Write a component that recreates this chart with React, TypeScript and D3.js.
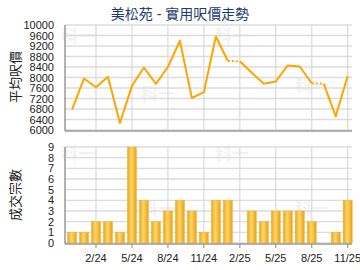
import React from "react";
import * as d3 from "d3";

const months = ["12/23","1/24","2/24","3/24","4/24","5/24","6/24","7/24","8/24","9/24","10/24","11/24","12/24","1/25","2/25","3/25","4/25","5/25","6/25","7/25","8/25","9/25","10/25","11/25"];
const prices = [6780,7960,7630,8030,6270,7680,8380,7760,8400,9400,7220,7440,9560,8630,8620,8180,7760,7850,8460,8420,7780,7770,6520,8060];
const counts = [1,1,2,2,1,9,4,2,3,4,3,1,4,4,0,3,2,3,3,3,2,0,1,4];
const tickLabels = ["2/24","5/24","8/24","11/24","2/25","5/25","8/25","11/25"];
const priceTicks = [6000,6400,6800,7200,7600,8000,8400,8800,9200,9600,10000];
const countTicks = [0,1,2,3,4,5,6,7,8,9];
const title = "美松苑 - 實用呎價走勢";

const FONT = "Arial, 'Liberation Sans', 'Noto Sans CJK TC', sans-serif";

export default function App() {
  const W = 360, H = 270;
  const left = 65, right = 352;
  const x = d3.scaleLinear().domain([0, 23]).range([72, 347.7]);
  const yP = d3.scaleLinear().domain([6000, 10000]).range([130, 25]);
  const yC = d3.scaleLinear().domain([0, 9]).range([243, 147]);
  const gridX = tickLabels.map((t) => months.indexOf(t));
  const barW = 9;

  const segs: { a: number; b: number; dotted: boolean }[] = [];
  for (let i = 0; i < prices.length - 1; i++) {
    segs.push({ a: i, b: i + 1, dotted: counts[i + 1] === 0 });
  }
  const solidRuns: number[][] = [];
  let cur: number[] = [0];
  segs.forEach((s) => {
    if (s.dotted) {
      if (cur.length > 1) solidRuns.push(cur);
      cur = [s.b];
    } else cur.push(s.b);
  });
  if (cur.length > 1) solidRuns.push(cur);
  const line = d3.line<number>().x((i) => x(i)).y((i) => yP(prices[i]));

  const wm = [
    [78, 42], [158, 100], [232, 42], [312, 92],
    [78, 160], [158, 215], [232, 160], [312, 215],
  ];

  return (
    <svg width={W} height={H} style={{ position: "absolute", left: 0, top: 0, background: "#fff" }} fontFamily={FONT}>
      <defs>
        <linearGradient id="barg" x1="0" x2="1" y1="0" y2="0">
          <stop offset="0" stopColor="#eda51c" />
          <stop offset="0.45" stopColor="#ffd66b" />
          <stop offset="0.6" stopColor="#fcc84a" />
          <stop offset="1" stopColor="#e9a018" />
        </linearGradient>
      </defs>
      {wm.map(([wx, wy], i) => (
        <text key={"wm" + i} x={wx} y={wy} fontSize={17} fontWeight="bold" fill="#f2f2f2" textAnchor="middle">科一</text>
      ))}
      <text x={180} y={19} textAnchor="middle" fontSize={14} fill="#1c3d6e">{title}</text>

      {priceTicks.map((t) => (
        <line key={"hp" + t} x1={left} x2={right} y1={yP(t)} y2={yP(t)} stroke="#dcdcdc" strokeWidth={1.3} />
      ))}
      {gridX.map((i) => (
        <line key={"vp" + i} x1={x(i)} x2={x(i)} y1={25} y2={130} stroke="#dcdcdc" strokeWidth={1.3} />
      ))}
      <line x1={left} x2={left} y1={25} y2={131} stroke="#999" strokeWidth={1.5} />
      <line x1={left} x2={right} y1={131} y2={131} stroke="#999" strokeWidth={1.5} />
      {priceTicks.map((t) => (
        <text key={"tp" + t} x={54} y={yP(t) + 4} textAnchor="end" fontSize={11} fill="#222">{t}</text>
      ))}
      <text transform="translate(20,77) rotate(-90)" textAnchor="middle" fontSize={13} fill="#222">平均呎價</text>

      {solidRuns.map((run, k) => (
        <path key={"run" + k} d={line(run) || ""} fill="none" stroke="#ffa500" strokeWidth={2} strokeLinejoin="round" />
      ))}
      {segs.filter((s) => s.dotted).map((s, k) => (
        <path key={"dot" + k} d={line([s.a, s.b]) || ""} fill="none" stroke="#ffa500" strokeWidth={2} strokeDasharray="2,2" />
      ))}

      {countTicks.map((t) => (
        <line key={"hc" + t} x1={left} x2={right} y1={yC(t)} y2={yC(t)} stroke="#dcdcdc" strokeWidth={1.3} />
      ))}
      {gridX.map((i) => (
        <line key={"vc" + i} x1={x(i)} x2={x(i)} y1={147} y2={243} stroke="#dcdcdc" strokeWidth={1.3} />
      ))}
      {counts.map((c, i) =>
        c > 0 ? (
          <rect key={"b" + i} x={x(i) - barW / 2} y={yC(c)} width={barW} height={yC(0) - yC(c)} fill="url(#barg)" stroke="#f0b030" strokeWidth={0.5} />
        ) : null
      )}
      <line x1={left} x2={left} y1={147} y2={244} stroke="#999" strokeWidth={1.5} />
      <line x1={left} x2={right} y1={244} y2={244} stroke="#999" strokeWidth={1.5} />
      {gridX.map((i) => (
        <line key={"tk" + i} x1={x(i)} x2={x(i)} y1={244} y2={248} stroke="#999" strokeWidth={1.2} />
      ))}
      {countTicks.map((t) => (
        <text key={"tc" + t} x={54} y={yC(t) + 4} textAnchor="end" fontSize={11} fill="#222">{t}</text>
      ))}
      {tickLabels.map((t, k) => (
        <text key={"xl" + k} x={x(gridX[k])} y={262} textAnchor="middle" fontSize={11} fill="#222">{t}</text>
      ))}
      <text transform="translate(20,195) rotate(-90)" textAnchor="middle" fontSize={13} fill="#222">成交宗數</text>
    </svg>
  );
}
